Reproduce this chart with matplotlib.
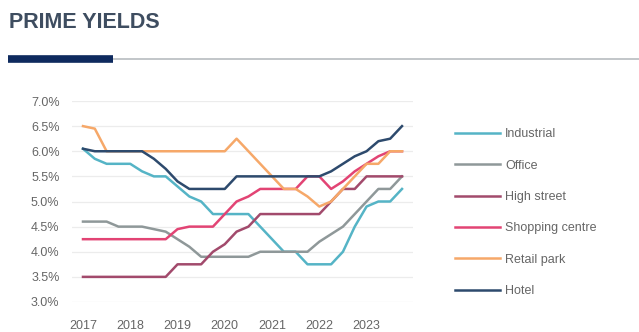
import matplotlib
matplotlib.use("Agg")
import matplotlib.pyplot as plt
import numpy as np

plt.rcParams['font.family'] = ['Liberation Sans', 'DejaVu Sans']

# Quarterly data 2017Q1 .. 2023Q4
quarters = [f"{y}Q{q}" for y in range(2017, 2024) for q in range(1, 5)]
year_labels = ["2017", "2018", "2019", "2020", "2021", "2022", "2023"]
y_ticks = [3.0, 3.5, 4.0, 4.5, 5.0, 5.5, 6.0, 6.5, 7.0]

industrial = [6.05, 5.85, 5.75, 5.75, 5.75, 5.6, 5.5, 5.5, 5.3, 5.1, 5.0, 4.75, 4.75, 4.75,
              4.75, 4.5, 4.25, 4.0, 4.0, 3.75, 3.75, 3.75, 4.0, 4.5, 4.9, 5.0, 5.0, 5.25]
office = [4.6, 4.6, 4.6, 4.5, 4.5, 4.5, 4.45, 4.4, 4.25, 4.1, 3.9, 3.9, 3.9, 3.9,
          3.9, 4.0, 4.0, 4.0, 4.0, 4.0, 4.2, 4.35, 4.5, 4.75, 5.0, 5.25, 5.25, 5.5]
high_street = [3.5, 3.5, 3.5, 3.5, 3.5, 3.5, 3.5, 3.5, 3.75, 3.75, 3.75, 4.0, 4.15, 4.4,
               4.5, 4.75, 4.75, 4.75, 4.75, 4.75, 4.75, 5.0, 5.25, 5.25, 5.5, 5.5, 5.5, 5.5]
shopping_centre = [4.25, 4.25, 4.25, 4.25, 4.25, 4.25, 4.25, 4.25, 4.45, 4.5, 4.5, 4.5, 4.75, 5.0,
                   5.1, 5.25, 5.25, 5.25, 5.25, 5.5, 5.5, 5.25, 5.4, 5.6, 5.75, 5.9, 6.0, 6.0]
retail_park = [6.5, 6.45, 6.0, 6.0, 6.0, 6.0, 6.0, 6.0, 6.0, 6.0, 6.0, 6.0, 6.0, 6.25,
               6.0, 5.75, 5.5, 5.25, 5.25, 5.1, 4.9, 5.0, 5.25, 5.5, 5.75, 5.75, 6.0, 6.0]
hotel = [6.05, 6.0, 6.0, 6.0, 6.0, 6.0, 5.85, 5.65, 5.4, 5.25, 5.25, 5.25, 5.25, 5.5,
         5.5, 5.5, 5.5, 5.5, 5.5, 5.5, 5.5, 5.6, 5.75, 5.9, 6.0, 6.2, 6.25, 6.5]

series_names = ["Industrial", "Office", "High street", "Shopping centre", "Retail park", "Hotel"]
series_values = [industrial, office, high_street, shopping_centre, retail_park, hotel]
colors = ["#55b4c6", "#8f9899", "#a24a6c", "#e24474", "#f6a869", "#2d4a6d"]

W, H = 639, 332
fig = plt.figure(figsize=(W / 100, H / 100), dpi=100)

# Title and header rule
fig.text(9 / W, 1 - 23 / H, "PRIME YIELDS", fontsize=15.5, fontweight='bold',
         color='#3e4d60', va='center', ha='left')
fig.add_artist(plt.Line2D([113 / W, 1.0], [1 - 59 / H, 1 - 59 / H], color='#b8bcc0', lw=1.2))
fig.add_artist(plt.Line2D([8 / W, 113 / W], [1 - 59 / H, 1 - 59 / H], color='#0e2a5e', lw=5.5,
                          solid_capstyle='butt'))

ax = fig.add_axes([72 / W, 30 / H, (413 - 72) / W, (302 - 101) / H])
x = np.arange(len(quarters))
handles = []
for name, vals, c in zip(series_names, series_values, colors):
    h, = ax.plot(x, vals, color=c, lw=1.8, label=name, solid_joinstyle='round', clip_on=False)
    handles.append(h)

ax.set_xlim(-0.93, 27.93)
ax.set_ylim(3.0, 7.0)
ax.set_yticks(y_ticks)
ax.set_yticklabels([f"{v:.1f}%" for v in y_ticks])
ax.set_xticks(np.arange(0, 28, 4))
ax.set_xticklabels(year_labels)
ax.tick_params(axis='y', length=0, pad=9, labelsize=9, labelcolor='#666666')
ax.tick_params(axis='x', length=0, pad=13, labelsize=9, labelcolor='#666666')
ax.grid(axis='y', color='#ececec', lw=0.9)
ax.set_axisbelow(True)
for s in ax.spines.values():
    s.set_visible(False)

leg = fig.legend(handles=handles, loc='upper left', bbox_to_anchor=(444 / W, 1 - 117 / H),
                 frameon=False, fontsize=9, handlelength=3.6, handletextpad=0.4,
                 labelspacing=1.55, labelcolor='#666666')

fig.savefig("out.png", dpi=100)
